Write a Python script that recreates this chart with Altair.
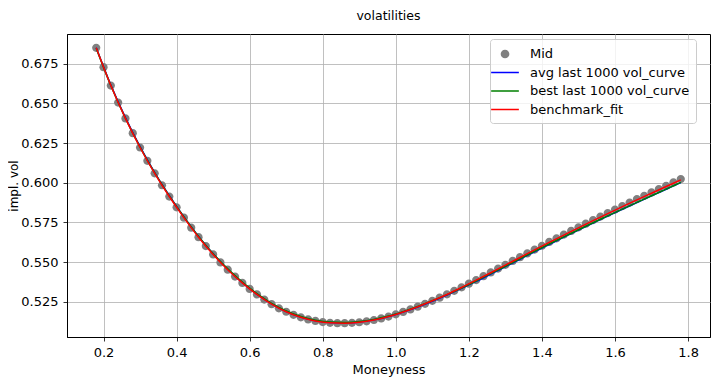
import altair as alt
import pandas as pd

names = ["Mid", "avg last 1000 vol_curve", "best last 1000 vol_curve", "benchmark_fit"]
palette = ["#808080", "#0000ff", "#008000", "#ff0000"]

x_mid = [0.18, 0.20, 0.22, 0.24, 0.26, 0.28, 0.30, 0.32, 0.34, 0.36, 0.38, 0.40,
         0.42, 0.44, 0.46, 0.48, 0.50, 0.52, 0.54, 0.56, 0.58, 0.60, 0.62, 0.64,
         0.66, 0.68, 0.70, 0.72, 0.74, 0.76, 0.78, 0.80, 0.82, 0.84, 0.86, 0.88,
         0.90, 0.92, 0.94, 0.96, 0.98, 1.00, 1.02, 1.04, 1.06, 1.08, 1.10, 1.12,
         1.14, 1.16, 1.18, 1.20, 1.22, 1.24, 1.26, 1.28, 1.30, 1.32, 1.34, 1.36,
         1.38, 1.40, 1.42, 1.44, 1.46, 1.48, 1.50, 1.52, 1.54, 1.56, 1.58, 1.60,
         1.62, 1.64, 1.66, 1.68, 1.70, 1.72, 1.74, 1.76, 1.78]
y_mid = [0.6850, 0.6728, 0.6612, 0.6505, 0.6405, 0.6312, 0.6222, 0.6138, 0.6059,
         0.5984, 0.5913, 0.5845, 0.5780, 0.5717, 0.5657, 0.5601, 0.5548, 0.5498,
         0.5452, 0.5409, 0.5369, 0.5331, 0.5296, 0.5264, 0.5235, 0.5209, 0.5187,
         0.5168, 0.5152, 0.5139, 0.5129, 0.5122, 0.5117, 0.5115, 0.5115, 0.5117,
         0.5121, 0.5127, 0.5135, 0.5145, 0.5157, 0.5171, 0.5186, 0.5202, 0.5219,
         0.5237, 0.5256, 0.5276, 0.5297, 0.5319, 0.5341, 0.5364, 0.5387, 0.5411,
         0.5435, 0.5459, 0.5483, 0.5507, 0.5531, 0.5555, 0.5579, 0.5603, 0.5627,
         0.5650, 0.5673, 0.5696, 0.5719, 0.5742, 0.5765, 0.5787, 0.5809, 0.5831,
         0.5853, 0.5875, 0.5897, 0.5918, 0.5939, 0.5960, 0.5981, 0.6002, 0.6023]

x_fit = [0.18, 0.22, 0.26, 0.30, 0.34, 0.38, 0.42, 0.46, 0.50, 0.54, 0.58, 0.62,
         0.66, 0.70, 0.74, 0.78, 0.82, 0.86, 0.90, 0.94, 0.98, 1.02, 1.06, 1.10,
         1.14, 1.18, 1.22, 1.26, 1.30, 1.34, 1.38, 1.42, 1.46, 1.50, 1.54, 1.58,
         1.62, 1.66, 1.70, 1.74, 1.78]
y_avg = [0.6851, 0.6616, 0.6410, 0.6227, 0.6064, 0.5918, 0.5785, 0.5662, 0.5552,
         0.5455, 0.5371, 0.5298, 0.5237, 0.5189, 0.5154, 0.5131, 0.5119, 0.5117,
         0.5123, 0.5136, 0.5157, 0.5185, 0.5217, 0.5253, 0.5292, 0.5334, 0.5378,
         0.5424, 0.5471, 0.5518, 0.5565, 0.5611, 0.5657, 0.5702, 0.5746, 0.5790,
         0.5833, 0.5875, 0.5917, 0.5959, 0.6001]
y_best = [0.6848, 0.6612, 0.6406, 0.6224, 0.6062, 0.5917, 0.5785, 0.5662, 0.5553,
          0.5457, 0.5374, 0.5301, 0.5240, 0.5192, 0.5157, 0.5134, 0.5122, 0.5120,
          0.5126, 0.5139, 0.5160, 0.5188, 0.5220, 0.5256, 0.5295, 0.5337, 0.5381,
          0.5427, 0.5474, 0.5521, 0.5568, 0.5614, 0.5659, 0.5704, 0.5748, 0.5791,
          0.5834, 0.5876, 0.5918, 0.5960, 0.6002]
y_bench = [0.6850, 0.6612, 0.6405, 0.6222, 0.6059, 0.5913, 0.5780, 0.5657, 0.5548,
           0.5452, 0.5369, 0.5296, 0.5235, 0.5187, 0.5152, 0.5129, 0.5117, 0.5115,
           0.5121, 0.5135, 0.5157, 0.5186, 0.5219, 0.5256, 0.5296, 0.5340, 0.5386,
           0.5433, 0.5481, 0.5529, 0.5577, 0.5624, 0.5670, 0.5716, 0.5761, 0.5805,
           0.5849, 0.5892, 0.5934, 0.5976, 0.6018]

x_ticks = [0.2, 0.4, 0.6, 0.8, 1.0, 1.2, 1.4, 1.6, 1.8]
y_ticks = [0.525, 0.550, 0.575, 0.600, 0.625, 0.650, 0.675]

mid_df = pd.DataFrame({"m": x_mid, "v": y_mid, "series": names[0]})
avg_df = pd.DataFrame({"m": x_fit, "v": y_avg, "series": names[1]})
best_df = pd.DataFrame({"m": x_fit, "v": y_best, "series": names[2]})
bench_df = pd.DataFrame({"m": x_fit, "v": y_bench, "series": names[3]})

FONT = "DejaVu Sans"
FS = 13

CIRCLE = "M-0.5,0A0.5,0.5,0,1,1,0.5,0A0.5,0.5,0,1,1,-0.5,0Z"
BAR = "M-1.6,-0.087H1.6V0.087H-1.6Z"

xs = alt.Scale(domain=[0.1, 1.86], nice=False, zero=False)
ys = alt.Scale(domain=[0.5028, 0.6937], nice=False, zero=False)

legend = alt.Legend(
    title=None, orient="none", legendX=423, legendY=5,
    labelFont=FONT, labelFontSize=FS, labelColor="black",
    symbolSize=300, symbolStrokeWidth=0, labelOffset=16, symbolOpacity=1,
    rowPadding=2.5, padding=6, strokeColor="#cccccc", cornerRadius=3,
    fillColor="rgba(255,255,255,0.8)",
)

color = alt.Color("series:N", scale=alt.Scale(domain=names, range=palette), legend=legend)
shape = alt.Shape("series:N", scale=alt.Scale(domain=names, range=[CIRCLE, BAR, BAR, BAR]),
                  legend=legend)
stroke = alt.Stroke("series:N", scale=alt.Scale(domain=names, range=palette), legend=None)

xenc = alt.X("m:Q", scale=xs, title="Moneyness",
             axis=alt.Axis(values=x_ticks, format=".1f"))
yenc = alt.Y("v:Q", scale=ys, title="impl. vol",
             axis=alt.Axis(values=y_ticks, format=".3f", titleFontSize=12,
                           titlePadding=0, labelPadding=5))

pts = alt.Chart(mid_df).mark_point(size=270, filled=True, opacity=1, strokeWidth=0).encode(
    x=xenc, y=yenc, color=color, shape=shape)
l_avg = alt.Chart(avg_df).mark_line(strokeWidth=1.5, interpolate="monotone").encode(
    x=xenc, y=yenc, stroke=stroke)
l_best = alt.Chart(best_df).mark_line(strokeWidth=1.5, interpolate="monotone").encode(
    x=xenc, y=yenc, stroke=stroke)
l_bench = alt.Chart(bench_df).mark_line(strokeWidth=1.5, interpolate="monotone").encode(
    x=xenc, y=yenc, stroke=stroke)

chart = alt.layer(pts, l_avg, l_best, l_bench).properties(
    width=643, height=303,
    title=alt.TitleParams("volatilities", font=FONT, fontSize=12.5, fontWeight="normal",
                          color="black", offset=12, anchor="middle"),
    autosize=alt.AutoSizeParams(type="none"),
    padding={"left": 59, "top": 26, "right": 2, "bottom": 41},
).configure_view(
    stroke="black", strokeWidth=1
).configure_axis(
    labelFont=FONT, labelFontSize=FS, labelColor="black",
    titleFont=FONT, titleFontSize=FS, titleFontWeight="normal", titleColor="black",
    tickColor="black", tickSize=4, tickWidth=0.8,
    domainColor="black", domainWidth=1,
    gridColor="#b0b0b0", gridWidth=0.8,
).configure_axisX(titlePadding=4, labelPadding=5)

chart.save("out.html", embed_options={"renderer": "svg", "actions": False})
